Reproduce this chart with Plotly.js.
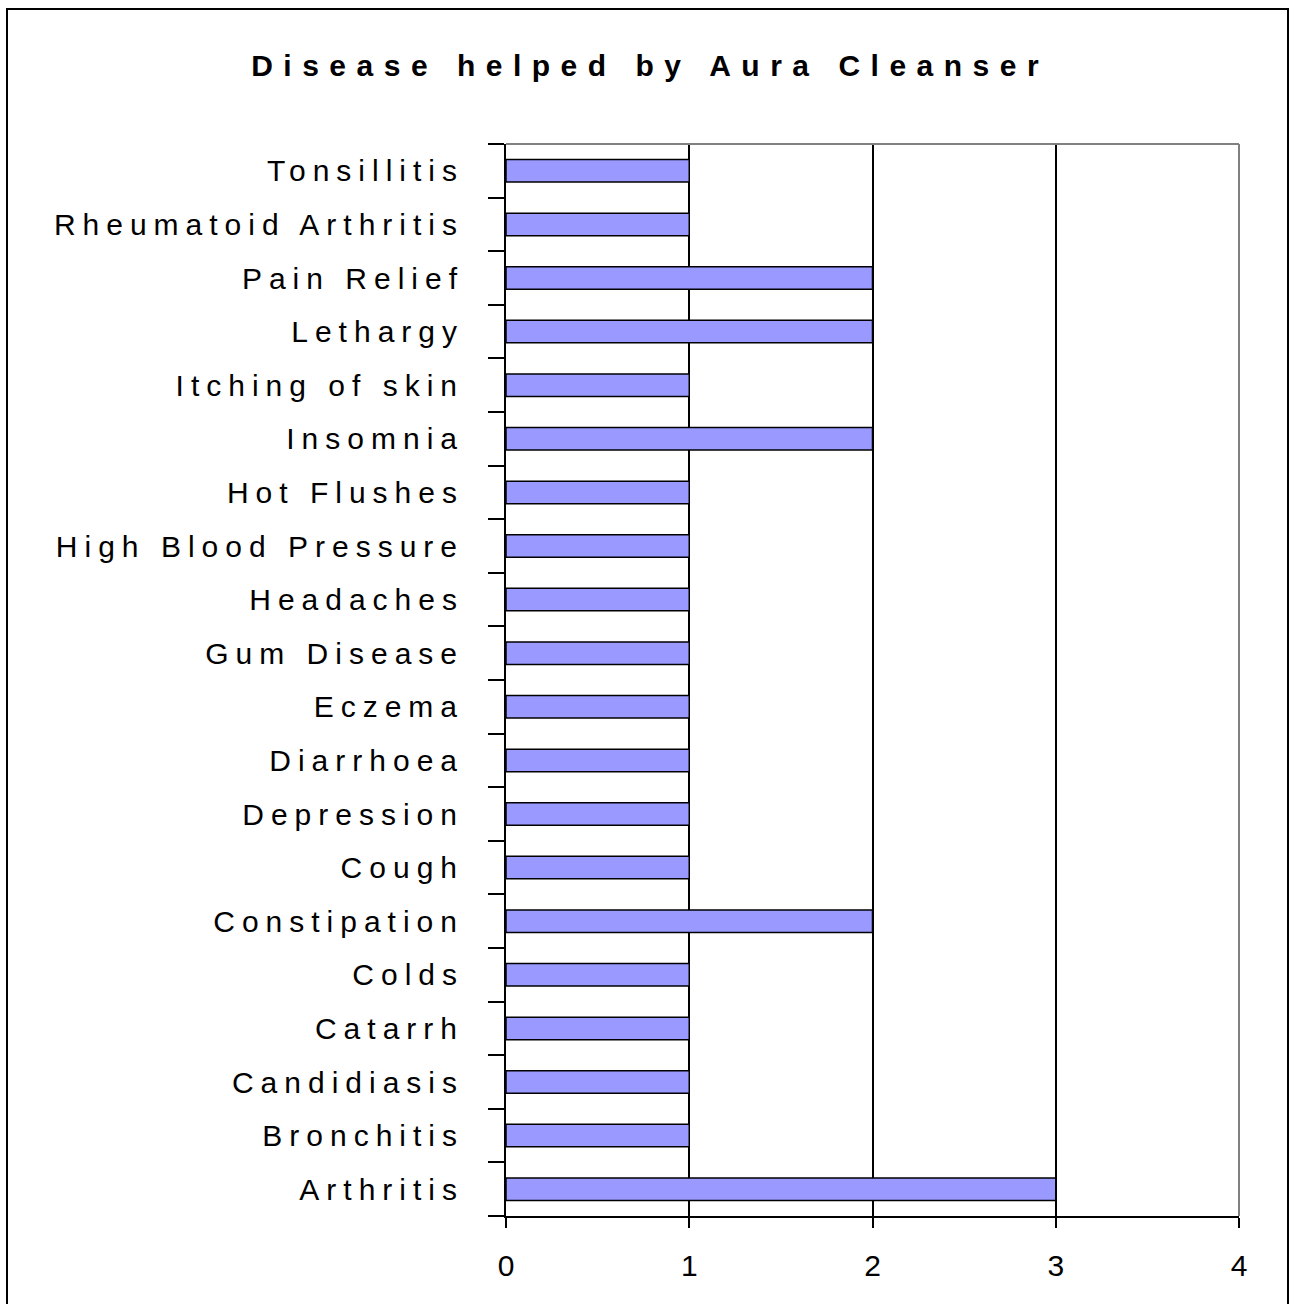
<!DOCTYPE html>
<html>
<head>
<meta charset="utf-8">
<script src="https://cdn.plot.ly/plotly-3.0.1.min.js"></script>
<style>
  html, body { margin: 0; padding: 0; background: #fff; }
  #chart { width: 1290px; height: 1304px; }
  .ytick text { letter-spacing: 7px; }
  .gtitle { letter-spacing: 10.5px; }
</style>
</head>
<body>
<div id="chart"></div>
<script>
const categories = [
  "Arthritis", "Bronchitis", "Candidiasis", "Catarrh", "Colds",
  "Constipation", "Cough", "Depression", "Diarrhoea", "Eczema",
  "Gum Disease", "Headaches", "High Blood Pressure", "Hot Flushes", "Insomnia",
  "Itching of skin", "Lethargy", "Pain Relief", "Rheumatoid Arthritis", "Tonsillitis"
];
const values = [3, 1, 1, 1, 1, 2, 1, 1, 1, 1, 1, 1, 1, 1, 2, 1, 2, 2, 1, 1];
const xTicks = [0, 1, 2, 3, 4];
const titleText = "Disease helped by Aura Cleanser";

const FONT = "Liberation Sans, Arial, sans-serif";

const trace = {
  type: "bar",
  orientation: "h",
  y: categories,
  x: values,
  marker: { color: "#9999FF", line: { color: "#000000", width: 1.5 } },
  hoverinfo: "none"
};

const layout = {
  width: 1290,
  height: 1304,
  margin: { l: 506, r: 51, t: 144, b: 88, pad: 0 },
  paper_bgcolor: "#ffffff",
  plot_bgcolor: "#ffffff",
  showlegend: false,
  bargap: 0.58,
  title: {
    text: "<b>" + titleText + "</b>",
    font: { family: FONT, size: 30, color: "#000000" },
    x: 0.504, xref: "container", xanchor: "center",
    y: 0.95, yref: "container", yanchor: "middle"
  },
  xaxis: {
    range: [0, 4],
    tickvals: xTicks,
    ticktext: xTicks.map(String),
    showgrid: true,
    gridcolor: "#000000",
    gridwidth: 2,
    zeroline: false,
    showline: true,
    linecolor: "#000000",
    linewidth: 2,
    ticks: "outside",
    ticklen: 10,
    tickwidth: 2,
    tickcolor: "#000000",
    ticklabelstandoff: 12,
    tickfont: { family: FONT, size: 30, color: "#000000" },
    fixedrange: true
  },
  yaxis: {
    type: "category",
    categoryorder: "array",
    categoryarray: categories,
    showgrid: false,
    zeroline: false,
    showline: true,
    linecolor: "#000000",
    linewidth: 2,
    ticks: "outside",
    tickson: "boundaries",
    ticklen: 16,
    tickwidth: 2,
    tickcolor: "#000000",
    ticklabelstandoff: 34,
    tickfont: { family: FONT, size: 30, color: "#000000" },
    fixedrange: true
  },
  shapes: [
    { type: "line", xref: "paper", yref: "paper", x0: 0, x1: 1, y0: 1, y1: 1,
      line: { color: "#808080", width: 2 }, layer: "above" },
    { type: "line", xref: "paper", yref: "paper", x0: 1, x1: 1, y0: 0, y1: 1,
      line: { color: "#808080", width: 2 }, layer: "above" },
    { type: "rect", xref: "paper", yref: "paper",
      x0: (7 - 506) / 733, x1: (1288 - 506) / 733,
      y0: (1216 - 1312) / 1072, y1: (1216 - 9) / 1072,
      line: { color: "#000000", width: 2 }, fillcolor: "rgba(0,0,0,0)", layer: "below" }
  ]
};

Plotly.newPlot("chart", [trace], layout, { displayModeBar: false, staticPlot: true });
</script>
</body>
</html>
